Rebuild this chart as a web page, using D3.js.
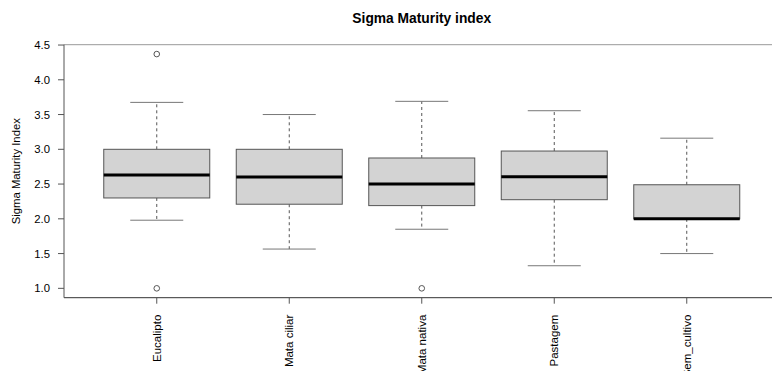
<!DOCTYPE html>
<html>
<head>
<meta charset="utf-8">
<style>
  body { margin: 0; background: #fff; }
  svg { display: block; }
  text { font-family: "Liberation Sans", Arial, sans-serif; fill: #000; }
</style>
<script src="https://d3js.org/d3.v7.min.js"></script>
</head>
<body>
<script>
// values
const categories   = ["Eucalipto", "Mata ciliar", "Mata nativa", "Pastagem", "Sem_cultivo"];
const lowerWhisker = [1.98, 1.565, 1.85, 1.325, 1.50];
const q1           = [2.30, 2.21, 2.19, 2.275, 2.00];
const median       = [2.63, 2.60, 2.50, 2.605, 2.00];
const q3           = [3.00, 3.00, 2.875, 2.975, 2.49];
const upperWhisker = [3.675, 3.50, 3.69, 3.555, 3.16];
const outliers     = [[4.37, 1.0], [], [1.0], [], []];
const yTicks       = [1.0, 1.5, 2.0, 2.5, 3.0, 3.5, 4.0, 4.5];

const width = 772, height = 371;
const mLeft = 64, mTop = 44.7, mBottom = 297.7, mRight = 779.5;

const svg = d3.select("body").append("svg")
    .attr("width", width)
    .attr("height", height);

// R style 4% padding on both axes
const allVals = lowerWhisker.concat(upperWhisker, outliers.flat());
const lo = d3.min(allVals), hi = d3.max(allVals);
const pad = (hi - lo) * 0.04;

const x = d3.scaleLinear()
    .domain([1 - 0.5 - 0.2, categories.length + 0.5 + 0.2])
    .range([mLeft, mRight]);
const y = d3.scaleLinear()
    .domain([lo - pad, hi + pad])
    .range([mBottom, mTop]);

const boxes = categories.map((c, i) => ({
    name: c, pos: i + 1,
    lw: lowerWhisker[i], q1: q1[i], med: median[i], q3: q3[i], uw: upperWhisker[i],
    out: outliers[i]
}));

const g = svg.append("g").selectAll("g")
    .data(boxes)
    .join("g");

// dashed whiskers
g.append("line")
    .attr("x1", d => x(d.pos)).attr("x2", d => x(d.pos))
    .attr("y1", d => y(d.q3)).attr("y2", d => y(d.uw))
    .attr("stroke", "#555").attr("stroke-dasharray", "3,3");
g.append("line")
    .attr("x1", d => x(d.pos)).attr("x2", d => x(d.pos))
    .attr("y1", d => y(d.q1)).attr("y2", d => y(d.lw))
    .attr("stroke", "#555").attr("stroke-dasharray", "3,3");

// caps
["uw", "lw"].forEach(k => {
    g.append("line")
        .attr("x1", d => x(d.pos - 0.2)).attr("x2", d => x(d.pos + 0.2))
        .attr("y1", d => y(d[k])).attr("y2", d => y(d[k]))
        .attr("stroke", "#777");
});

// boxes
g.append("rect")
    .attr("x", d => x(d.pos - 0.4))
    .attr("width", d => x(d.pos + 0.4) - x(d.pos - 0.4))
    .attr("y", d => y(d.q3))
    .attr("height", d => y(d.q1) - y(d.q3))
    .attr("fill", "#d3d3d3")
    .attr("stroke", "#555");

// medians
g.append("line")
    .attr("x1", d => x(d.pos - 0.4)).attr("x2", d => x(d.pos + 0.4))
    .attr("y1", d => y(d.med)).attr("y2", d => y(d.med))
    .attr("stroke", "#000").attr("stroke-width", 3);

// outliers
g.selectAll("circle")
    .data(d => d.out.map(v => ({pos: d.pos, v: v})))
    .join("circle")
    .attr("cx", d => x(d.pos))
    .attr("cy", d => y(d.v))
    .attr("r", 2.8)
    .attr("fill", "none")
    .attr("stroke", "#555");

// frame
svg.append("line").attr("x1", mLeft).attr("x2", mRight).attr("y1", mTop).attr("y2", mTop)
    .attr("stroke", "#999");
svg.append("line").attr("x1", mLeft).attr("x2", mRight).attr("y1", mBottom).attr("y2", mBottom)
    .attr("stroke", "#333");
svg.append("line").attr("x1", mLeft).attr("x2", mLeft).attr("y1", mTop).attr("y2", mBottom)
    .attr("stroke", "#555");

// y axis
const yAxis = svg.append("g");
yAxis.selectAll("line")
    .data(yTicks)
    .join("line")
    .attr("x1", mLeft - 6).attr("x2", mLeft)
    .attr("y1", d => y(d)).attr("y2", d => y(d))
    .attr("stroke", "#555");
yAxis.selectAll("text")
    .data(yTicks)
    .join("text")
    .attr("x", 50)
    .attr("y", d => y(d))
    .attr("dy", "0.35em")
    .attr("text-anchor", "end")
    .style("font-size", "11.3px")
    .text(d => d.toFixed(1));

// x axis
const xAxis = svg.append("g");
xAxis.selectAll("line")
    .data(boxes)
    .join("line")
    .attr("x1", d => x(d.pos)).attr("x2", d => x(d.pos))
    .attr("y1", mBottom).attr("y2", mBottom + 6)
    .attr("stroke", "#555");
xAxis.selectAll("text")
    .data(boxes)
    .join("text")
    .attr("transform", d => `translate(${x(d.pos) + 4},${mBottom + 17}) rotate(-90)`)
    .attr("text-anchor", "end")
    .style("font-size", "11.5px")
    .text(d => d.name);

// titles
svg.append("text")
    .attr("x", (mLeft + mRight) / 2)
    .attr("y", 23)
    .attr("text-anchor", "middle")
    .style("font-size", "13.8px")
    .style("font-weight", "bold")
    .text("Sigma Maturity index");

svg.append("text")
    .attr("transform", `translate(20,${(mTop + mBottom) / 2}) rotate(-90)`)
    .attr("text-anchor", "middle")
    .style("font-size", "11.3px")
    .text("Sigma Maturity Index");
</script>
</body>
</html>
